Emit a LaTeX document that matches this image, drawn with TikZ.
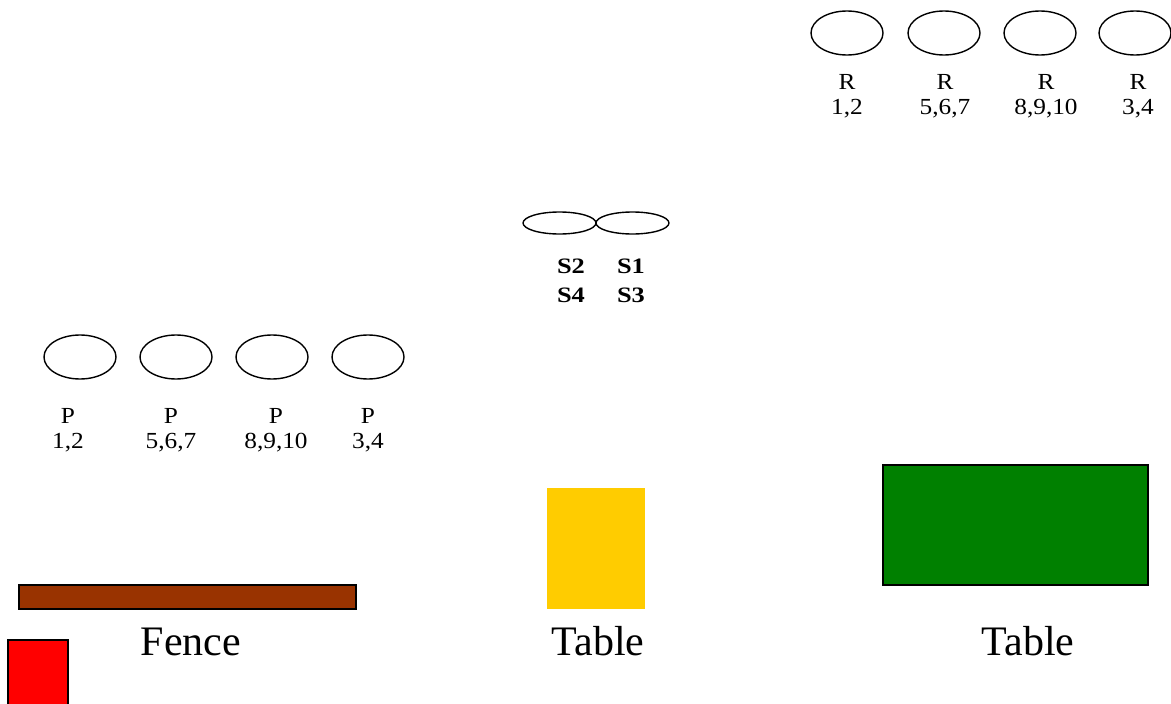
\documentclass[tikz,border=0pt]{standalone}
\usepackage{fontspec}
\setmainfont{Liberation Serif}
\newfontfamily\seatfont[FakeStretch=1.1]{Liberation Serif}
\newfontfamily\stoolfont[FakeStretch=1.2]{Liberation Serif}
\usetikzlibrary{shapes.geometric}
\definecolor{fencebrown}{RGB}{153,51,0}
\definecolor{tableyellow}{RGB}{255,204,0}
\definecolor{tablegreen}{RGB}{0,128,0}

\begin{document}
\begin{tikzpicture}[x=1pt,y=-1pt,
  seat/.style={draw, line width=1.4pt, ellipse, inner sep=0pt, minimum width=72pt, minimum height=44pt},
  stool/.style={draw, line width=1.4pt, ellipse, inner sep=0pt, minimum width=73pt, minimum height=22pt},
  seatlabel/.style={font=\seatfont\fontsize{23}{25}\selectfont, align=center},
  stoollabel/.style={font=\stoolfont\fontsize{22}{29}\selectfont\bfseries, align=center},
  biglabel/.style={font=\fontsize{42}{48}\selectfont, anchor=base}]
\useasboundingbox (0,0) rectangle (1171,704);

% R seats at the top right
\foreach \i/\x/\lx/\t in {1/847/847/{1,2}, 2/944/945/{5,6,7}, 3/1040/1046/{8,9,10}, 4/1135/1138/{3,4}} {
  \node [seat] (r\i) at (\x,33) {};
  \node [seatlabel] (rlabel\i) at (\lx,96) {R\\\t};
}

% S stools in the middle
\node [stool] (s21) at (559.5,223) {};
\node [stool] (s13) at (632.5,223) {};
\node [stoollabel] (slabel24) at (571,281) {S2\\S4};
\node [stoollabel] (slabel13) at (631,281) {S1\\S3};

% P seats on the left
\foreach \i/\x/\lx/\t in {1/80/68/{1,2}, 2/176/171/{5,6,7}, 3/272/276/{8,9,10}, 4/368/368/{3,4}} {
  \node [seat] (p\i) at (\x,357) {};
  \node [seatlabel] (plabel\i) at (\lx,430) {P\\\t};
}

% fence, tables and red box
\draw [line width=1.2pt, fill=fencebrown] (19,585) rectangle (356,609);
\fill [tableyellow] (547,488) rectangle (645,609);
\draw [line width=1.2pt, fill=tablegreen] (883,465) rectangle (1148,585);
\draw [line width=1.2pt, fill=red] (8,640) rectangle (68,710);

\node [biglabel] (fence) at (191,655) {Fence};
\node [biglabel] (table1) at (598,655) {Table};
\node [biglabel] (table2) at (1028,655) {Table};

\end{tikzpicture}
\end{document}
